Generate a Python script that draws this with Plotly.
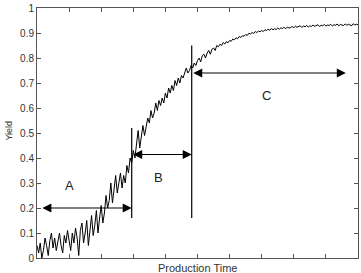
import plotly.graph_objects as go

# Production time (axis units 0..10) and yield
time = [round(i * 0.05, 2) for i in range(201)]
yield_vals = [
    0.05, 0.02, 0.06, 0.00, 0.03, 0.08, 0.05, 0.01, 0.07, 0.10,
    0.04, 0.08, 0.03, 0.07, 0.10, 0.05, 0.02, 0.09, 0.06, 0.11,
    0.07, 0.03, 0.10, 0.06, 0.12, 0.08, 0.01, 0.11, 0.14, 0.06,
    0.10, 0.15, 0.05, 0.12, 0.17, 0.09, 0.13, 0.19, 0.10, 0.16,
    0.21, 0.14, 0.18, 0.25, 0.20, 0.23, 0.30, 0.22, 0.27, 0.33,
    0.26, 0.31, 0.34, 0.28, 0.33, 0.30, 0.37, 0.34, 0.40, 0.38,
    0.43, 0.40, 0.46, 0.51, 0.44, 0.48, 0.53, 0.49, 0.52, 0.56,
    0.54, 0.59, 0.56, 0.58, 0.62, 0.59, 0.63, 0.61, 0.64, 0.62,
    0.66, 0.64, 0.68, 0.66, 0.69, 0.67, 0.71, 0.69, 0.72, 0.70,
    0.73, 0.72, 0.74, 0.76, 0.74, 0.75, 0.77, 0.76, 0.78, 0.77,
    0.79, 0.80, 0.785, 0.81, 0.815, 0.80, 0.82, 0.83, 0.815, 0.835,
    0.84, 0.83, 0.85, 0.845, 0.855, 0.85, 0.862, 0.856, 0.866, 0.861,
    0.87, 0.867, 0.876, 0.873, 0.881, 0.877, 0.886, 0.882, 0.889, 0.887,
    0.894, 0.89, 0.899, 0.896, 0.902, 0.898, 0.906, 0.902, 0.908, 0.905,
    0.91, 0.906, 0.913, 0.91, 0.915, 0.911, 0.918, 0.913, 0.917, 0.914,
    0.92, 0.915, 0.921, 0.918, 0.923, 0.917, 0.924, 0.92, 0.922, 0.926,
    0.921, 0.927, 0.923, 0.925, 0.929, 0.922, 0.928, 0.925, 0.93, 0.924,
    0.929, 0.926, 0.932, 0.927, 0.929, 0.933, 0.926, 0.931, 0.929, 0.934,
    0.928, 0.932, 0.93, 0.935, 0.928, 0.933, 0.931, 0.936, 0.929, 0.934,
    0.932, 0.93, 0.936, 0.931, 0.935, 0.933, 0.929, 0.937, 0.932, 0.935,
    0.933,
]

# Phase boundaries and arrows
phase_labels = ["A", "B", "C"]
arrow_start = [0.12, 2.95, 4.82]
arrow_end = [2.95, 4.82, 9.62]
arrow_y = [0.2, 0.414, 0.74]
label_x = [1.02, 3.77, 7.16]
label_y = [0.29, 0.324, 0.65]
boundary_x = [2.95, 4.82]
boundary_y0 = [0.16, 0.16]
boundary_y1 = [0.52, 0.85]

y_ticks = [0, 0.1, 0.2, 0.3, 0.4, 0.5, 0.6, 0.7, 0.8, 0.9, 1]
y_tick_text = ["0", "0.1", "0.2", "0.3", "0.4", "0.5", "0.6", "0.7", "0.8", "0.9", "1"]

FONT = "Arial, Liberation Sans, sans-serif"

fig = go.Figure()
fig.add_trace(go.Scatter(x=time, y=yield_vals, mode="lines",
                         line=dict(color="black", width=1),
                         showlegend=False, hoverinfo="skip"))

for bx, b0, b1 in zip(boundary_x, boundary_y0, boundary_y1):
    fig.add_shape(type="line", x0=bx, x1=bx, y0=b0, y1=b1, xref="x", yref="y",
                  line=dict(color="black", width=1.2))

annotations = []
for lab, xs, xe, ya, lx, ly in zip(phase_labels, arrow_start, arrow_end, arrow_y, label_x, label_y):
    annotations.append(dict(x=xe, y=ya, ax=xs, ay=ya, xref="x", yref="y",
                            axref="x", ayref="y", text="", showarrow=True,
                            arrowhead=2, startarrowhead=2, arrowside="end+start",
                            arrowsize=1.5, startarrowsize=1.5, arrowwidth=1.2,
                            arrowcolor="black", standoff=0, startstandoff=0))
    annotations.append(dict(x=lx, y=ly, xref="x", yref="y", text=lab, showarrow=False,
                            font=dict(family=FONT, size=13, color="#222")))

annotations.append(dict(x=0.5, y=-0.04, xref="paper", yref="paper", text="Production Time",
                        showarrow=False, yanchor="middle", xanchor="center",
                        font=dict(family=FONT, size=11, color="#333")))
annotations.append(dict(x=-0.09, y=0.51, xref="paper", yref="paper", text="Yield",
                        showarrow=False, textangle=-90, xanchor="center", yanchor="middle",
                        font=dict(family=FONT, size=9, color="#333")))

fig.update_layout(
    width=361, height=273,
    margin=dict(l=37, r=2, t=5, b=15),
    paper_bgcolor="white", plot_bgcolor="white",
    annotations=annotations,
    font=dict(family=FONT, size=10, color="#333"),
)
fig.update_xaxes(range=[0, 10], dtick=1, tick0=0, showticklabels=False,
                 ticks="inside", ticklen=4, tickcolor="#555",
                 showline=True, linecolor="#555", linewidth=1, mirror="ticks",
                 showgrid=False, zeroline=False)
fig.update_yaxes(range=[0, 1], tickvals=y_ticks, ticktext=y_tick_text,
                 ticks="inside", ticklen=4, tickcolor="#555",
                 showline=True, linecolor="#555", linewidth=1, mirror="ticks",
                 showgrid=False, zeroline=False, ticklabeloverflow="allow",
                 tickfont=dict(family=FONT, size=10, color="#333"))

fig.write_html("out.html")
